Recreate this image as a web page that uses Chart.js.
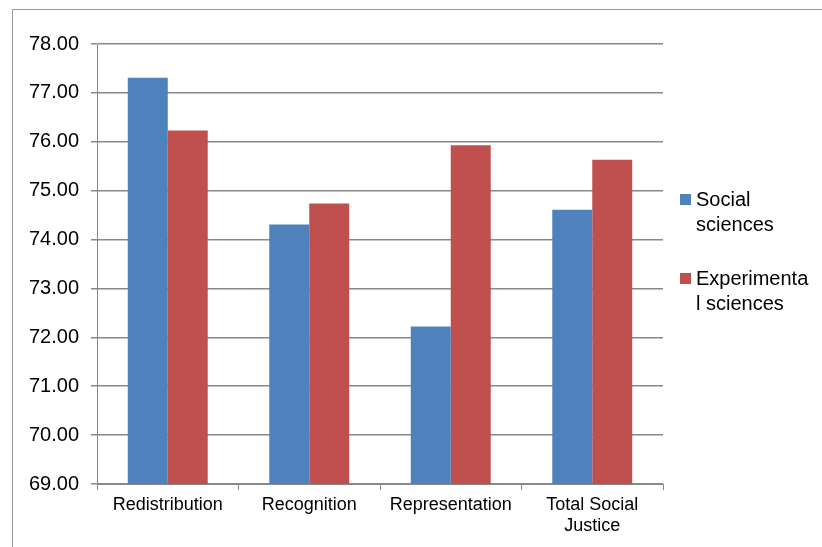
<!DOCTYPE html>
<html>
<head>
<meta charset="utf-8">
<script src="https://cdn.jsdelivr.net/npm/chart.js@4/dist/chart.umd.min.js"></script>
<style>
  html, body { margin: 0; padding: 0; background: #fff; }
  #wrap { width: 822px; height: 547px; }
</style>
</head>
<body>
<div id="wrap"><canvas id="chart" width="822" height="547"></canvas></div>
<script>
const categories = ['Redistribution', 'Recognition', 'Representation', ['Total Social', 'Justice']];
const socialSciences = [77.31, 74.31, 72.22, 74.61];
const experimentalSciences = [76.23, 74.74, 75.93, 75.63];
const seriesNames = ['Social sciences', 'Experimental sciences'];
// legend text wraps like the original
const legendLines = [['Social', 'sciences'], ['Experimenta', 'l sciences']];
const yTicks = { min: 69, max: 78, step: 1 };

const FONT = '"Liberation Sans", Arial, sans-serif';
const colors = ['#4F81BD', '#C0504D'];

const frameAndLegend = {
    id: 'frameAndLegend',
    afterDraw(chart) {
        const ctx = chart.ctx;
        ctx.save();
        // outer chart border
        ctx.strokeStyle = '#9a9a9a';
        ctx.lineWidth = 1;
        ctx.strokeRect(12.5, 9.5, 900, 700);

        // legend
        ctx.font = '20px ' + FONT;
        ctx.textBaseline = 'alphabetic';
        const tops = [194, 273];
        legendLines.forEach((lines, i) => {
            const y = tops[i];
            ctx.fillStyle = colors[i];
            ctx.fillRect(680, y, 11, 11);
            ctx.fillStyle = '#000';
            lines.forEach((t, j) => ctx.fillText(t, 696, y + 12 + j * 25));
        });
        ctx.restore();
    }
};

new Chart(document.getElementById('chart'), {
    type: 'bar',
    data: {
        labels: categories,
        datasets: [
            {
                label: seriesNames[0],
                data: socialSciences,
                backgroundColor: colors[0],
                borderWidth: 0,
                barPercentage: 1,
                categoryPercentage: 0.565
            },
            {
                label: seriesNames[1],
                data: experimentalSciences,
                backgroundColor: colors[1],
                borderWidth: 0,
                barPercentage: 1,
                categoryPercentage: 0.565
            }
        ]
    },
    options: {
        responsive: false,
        animation: false,
        layout: { padding: { top: 44, right: 159, left: 0, bottom: 0 } },
        plugins: {
            legend: { display: false },
            tooltip: { enabled: false }
        },
        scales: {
            x: {
                offset: true,
                grid: {
                    offset: true,
                    drawOnChartArea: false,
                    drawTicks: true,
                    tickLength: 6,
                    color: '#888',
                    lineWidth: 1
                },
                border: { color: '#888', width: 1 },
                ticks: {
                    color: '#000',
                    font: { family: FONT, size: 18, lineHeight: 1.15 },
                    padding: 5,
                    maxRotation: 0,
                    autoSkip: false
                },
                afterFit(scale) { scale.height = 63; }
            },
            y: {
                min: yTicks.min,
                max: yTicks.max,
                ticks: {
                    stepSize: yTicks.step,
                    color: '#000',
                    font: { family: FONT, size: 20 },
                    padding: 12,
                    callback: v => Number(v).toFixed(2)
                },
                grid: {
                    color: '#888',
                    lineWidth: 1.5,
                    drawTicks: true,
                    tickLength: 6
                },
                border: { color: '#888', width: 1 },
                afterFit(scale) { scale.width = 97; }
            }
        }
    },
    plugins: [frameAndLegend]
});
</script>
</body>
</html>
